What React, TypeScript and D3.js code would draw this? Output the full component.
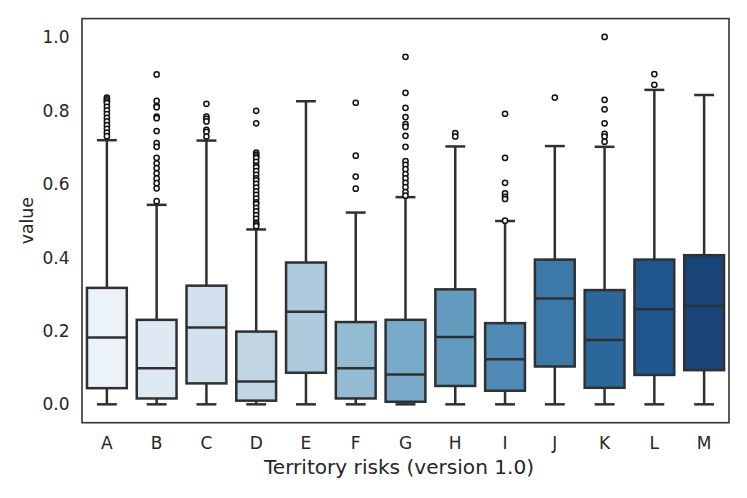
import React from "react";
import * as d3 from "d3";

const categories = ["A", "B", "C", "D", "E", "F", "G", "H", "I", "J", "K", "L", "M"];
// box statistics
const q1 = [0.044, 0.016, 0.057, 0.01, 0.086, 0.016, 0.007, 0.05, 0.037, 0.103, 0.045, 0.08, 0.093];
const medians = [0.182, 0.098, 0.209, 0.062, 0.252, 0.098, 0.081, 0.183, 0.123, 0.288, 0.175, 0.259, 0.268];
const q3 = [0.317, 0.23, 0.323, 0.198, 0.386, 0.224, 0.23, 0.313, 0.221, 0.394, 0.311, 0.394, 0.406];
const whiskLow = [0, 0, 0, 0, 0, 0, 0, 0, 0, 0, 0, 0, 0];
const whiskHigh = [0.719, 0.543, 0.718, 0.476, 0.825, 0.522, 0.564, 0.702, 0.499, 0.703, 0.701, 0.856, 0.842];
const outliers: number[][] = [
  [0.835, 0.83, 0.825, 0.82, 0.81, 0.80, 0.79, 0.78, 0.77, 0.76, 0.75, 0.74, 0.73],
  [0.898, 0.826, 0.812, 0.809, 0.783, 0.779, 0.744, 0.711, 0.701, 0.671, 0.656, 0.643, 0.629, 0.615, 0.602, 0.588, 0.553],
  [0.818, 0.783, 0.777, 0.77, 0.747, 0.742, 0.729],
  [0.799, 0.765, 0.685, 0.68, 0.675, 0.67, 0.66, 0.65, 0.645, 0.635, 0.625, 0.615, 0.61, 0.6, 0.59, 0.58, 0.57, 0.56, 0.55, 0.545, 0.535, 0.525, 0.515, 0.505, 0.495, 0.49, 0.485],
  [],
  [0.821, 0.677, 0.62, 0.587],
  [0.946, 0.848, 0.807, 0.782, 0.763, 0.755, 0.731, 0.701, 0.662, 0.652, 0.64, 0.627, 0.615, 0.603, 0.591, 0.578, 0.568],
  [0.738, 0.729],
  [0.791, 0.671, 0.603, 0.574, 0.565, 0.559, 0.5],
  [0.835],
  [1.0, 0.829, 0.803, 0.765, 0.736, 0.729, 0.715],
  [0.899, 0.87],
  [],
];
const yTicks = [0, 0.2, 0.4, 0.6, 0.8, 1.0];

// matplotlib "Blues" colormap stops
const bluesStops = ["#f7fbff", "#deebf7", "#c6dbef", "#9ecae1", "#6baed6", "#4292c6", "#2171b5", "#08519c", "#08306b"];

function bluesAt(t: number): string {
  const s = d3.scaleLinear<string>().domain(d3.range(bluesStops.length).map((i) => i / (bluesStops.length - 1))).range(bluesStops).interpolate(d3.interpolateRgb);
  const c = d3.hsl(s(t));
  c.s *= 0.75;
  return c.formatHex();
}

const W = 747;
const H = 498;
const margin = { left: 82, right: 18, top: 18.6, bottom: 75.3 };

export default function App() {
  const x = d3.scaleBand<string>().domain(categories).range([margin.left, W - margin.right]).paddingInner(0).paddingOuter(0);
  const y = d3.scaleLinear().domain([-0.05, 1.05]).range([H - margin.bottom, margin.top]);
  const n = categories.length;
  const colors = categories.map((_, i) => bluesAt((i + 1) / (n + 1)));
  const bw = x.bandwidth();
  const boxW = bw * 0.8;
  const capW = boxW / 2;
  const line = "#303030";
  const lw = 2.5;
  const fontFamily = "DejaVu Sans, sans-serif";
  const textColor = "#262626";

  return (
    <svg width={W} height={H} style={{ position: "absolute", left: 0, top: 0, background: "#fff" }} fontFamily={fontFamily}>
      {categories.map((c, i) => {
        const cx = (x(c) as number) + bw / 2;
        return (
          <g key={c}>
            <line x1={cx} x2={cx} y1={y(whiskHigh[i])} y2={y(q3[i])} stroke={line} strokeWidth={lw} />
            <line x1={cx} x2={cx} y1={y(whiskLow[i])} y2={y(q1[i])} stroke={line} strokeWidth={lw} />
            <line x1={cx - capW / 2} x2={cx + capW / 2} y1={y(whiskHigh[i])} y2={y(whiskHigh[i])} stroke={line} strokeWidth={lw} />
            <line x1={cx - capW / 2} x2={cx + capW / 2} y1={y(whiskLow[i])} y2={y(whiskLow[i])} stroke={line} strokeWidth={lw} />
            <rect x={cx - boxW / 2} y={y(q3[i])} width={boxW} height={y(q1[i]) - y(q3[i])} fill={colors[i]} stroke={line} strokeWidth={lw} />
            <line x1={cx - boxW / 2} x2={cx + boxW / 2} y1={y(medians[i])} y2={y(medians[i])} stroke={line} strokeWidth={lw} />
            {outliers[i].map((v, j) => (
              <circle key={j} cx={cx} cy={y(v)} r={2.6} fill="#f4f7fb" stroke="#111" strokeWidth={1.5} />
            ))}
            <text x={cx} y={449} textAnchor="middle" fontSize={17} fill={textColor}>{c}</text>
          </g>
        );
      })}
      <rect x={margin.left} y={margin.top} width={W - margin.left - margin.right} height={H - margin.top - margin.bottom} fill="none" stroke="#333" strokeWidth={1.6} />
      {yTicks.map((t) => (
        <text key={t} x={69.5} y={y(t)} dy="0.36em" textAnchor="end" fontSize={17} fill={textColor}>{t.toFixed(1)}</text>
      ))}
      <text x={399} y={474} textAnchor="middle" fontSize={20.1} fill={textColor}>Territory risks (version 1.0)</text>
      <text transform={`translate(33, ${(margin.top + H - margin.bottom) / 2}) rotate(-90)`} textAnchor="middle" fontSize={17.3} fill={textColor}>value</text>
    </svg>
  );
}
